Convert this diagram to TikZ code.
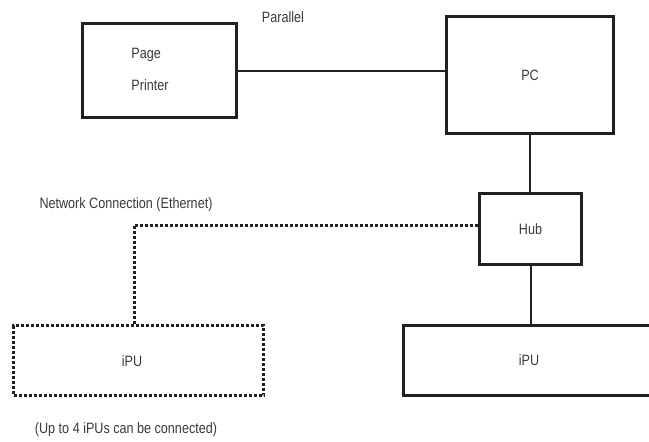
\documentclass[tikz,border=0pt]{standalone}
\usepackage{fontspec}
\setmainfont{Liberation Sans}[FakeStretch=0.84]
\usetikzlibrary{positioning}

\definecolor{inkline}{HTML}{231F20}
\definecolor{inktext}{HTML}{3A3A3A}

\begin{document}
\begin{tikzpicture}[x=1pt, y=-1pt,
    box/.style={draw=inkline, line width=3pt, rectangle, inner sep=0pt, text=inktext},
    dotbox/.style={box, dash pattern=on 3pt off 2pt},
    wire/.style={draw=inkline, line width=2pt},
    dotwire/.style={draw=inkline, line width=3pt, dash pattern=on 3pt off 2pt},
    lbl/.style={text=inktext, inner sep=0pt},
    every node/.style={font=\fontsize{15}{17}\selectfont}]
    % frame of the figure
    \useasboundingbox (0,0) rectangle (649,442);

    % boxes
    \node[box, minimum width=154pt, minimum height=94pt] (printer) at (159.5,70.5) {};
    \node[lbl, align=left] (printertxt) at (150,69) {Page\\[15pt]Printer};
    \node[box, minimum width=167pt, minimum height=117pt] (pc) at (530,75) {PC};
    \node[box, minimum width=102pt, minimum height=71pt] (hub) at (530.5,229) {Hub};
    \node[box, minimum width=251pt, minimum height=70pt] (ipub) at (529,360.5) {iPU};
    \node[dotbox, minimum width=250pt, minimum height=70pt] (ipua) at (138.5,360.5) {};
    \node[lbl] (ipuatxt) at (132,361) {iPU};

    % texts
    \node[lbl] (parallel) at (283,17) {Parallel};
    \node[lbl] (network) at (126,205) {Network Connection (Ethernet)};
    \node[lbl] (upto) at (126,430) {(Up to 4 iPUs can be connected)};

    % connections
    \coordinate (tap) at (134,225);
    \draw[wire] (printer.east) -- (printer.east -| pc.west);
    \draw[wire] (pc.south) -- (pc.south |- hub.north);
    \draw[wire] (ipub.north -| hub.south) -- (hub.south);
    \draw[dotwire] (tap -| hub.west) -- (tap) -- (tap |- ipua.north);
\end{tikzpicture}
\end{document}
